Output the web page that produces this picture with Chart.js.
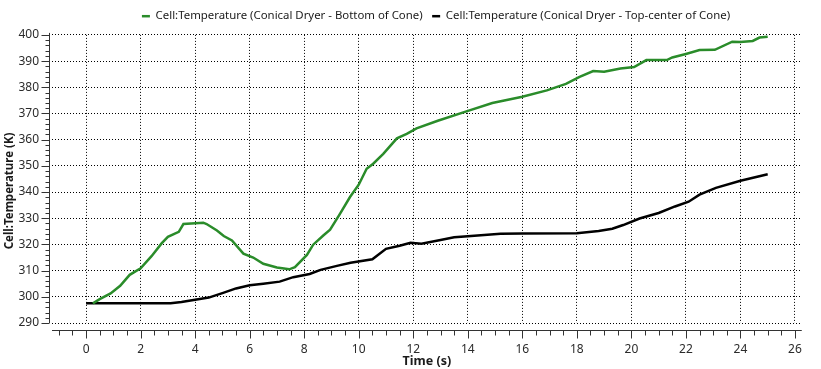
<!DOCTYPE html>
<html>
<head>
<meta charset="utf-8">
<script src="https://cdn.jsdelivr.net/npm/chart.js@4.4.1/dist/chart.umd.min.js"></script>
<style>
  html, body { margin: 0; padding: 0; background: #fff; }
  #wrap { width: 821px; height: 369px; }
</style>
</head>
<body>
<div id="wrap"><canvas id="myChart"></canvas></div>
<script>
  // time (s) / temperature (K)
  const bottomTime = [0.25, 0.5, 0.9, 1.25, 1.6, 2.0, 2.4, 2.77, 3.0, 3.4, 3.57, 4.3, 4.42, 4.8, 5.05, 5.35, 5.77, 6.13, 6.5, 7.0, 7.45, 7.66, 8.1, 8.33, 8.7, 8.95, 9.3, 9.68, 10.0, 10.29, 10.53, 10.9, 11.4, 11.76, 12.12, 12.9, 13.95, 14.9, 16.0, 16.9, 17.6, 18.1, 18.6, 19.0, 19.6, 20.1, 20.55, 21.3, 21.5, 22.0, 22.5, 23.06, 23.7, 24.0, 24.45, 24.7, 25.0];
  const bottomTemp = [297.5, 299.1, 301.3, 304.2, 308.4, 310.9, 315.5, 320.4, 322.9, 324.8, 327.8, 328.3, 327.8, 325.3, 323.2, 321.5, 316.5, 315.0, 312.6, 311.2, 310.5, 311.3, 316.0, 319.9, 323.4, 325.6, 331.5, 338.1, 342.8, 348.9, 350.8, 354.6, 360.5, 362.2, 364.3, 367.2, 370.8, 374.0, 376.4, 378.8, 381.3, 384.0, 386.2, 385.9, 387.2, 387.7, 390.4, 390.4, 391.4, 392.7, 394.2, 394.3, 397.4, 397.3, 397.7, 399.0, 399.3];

  const topTime = [0, 3.1, 3.5, 4.0, 4.5, 5.0, 5.5, 6.0, 6.5, 7.1, 7.6, 8.2, 8.6, 9.2, 9.7, 10.5, 11.0, 11.5, 11.9, 12.3, 13.0, 13.5, 14.0, 15.2, 16.0, 18.0, 18.8, 19.3, 19.7, 20.3, 21.0, 21.6, 22.1, 22.5, 23.1, 24.0, 25.0];
  const topTemp = [297.5, 297.5, 298.0, 298.9, 299.7, 301.4, 303.2, 304.4, 305.0, 305.8, 307.5, 308.7, 310.3, 311.8, 313.0, 314.3, 318.3, 319.5, 320.6, 320.3, 321.7, 322.7, 323.1, 324.1, 324.2, 324.3, 325.1, 326.0, 327.4, 329.9, 332.0, 334.5, 336.3, 339.0, 341.6, 344.3, 346.8];

  const xTicks = [0, 2, 4, 6, 8, 10, 12, 14, 16, 18, 20, 22, 24, 26];
  const yTicks = [290, 300, 310, 320, 330, 340, 350, 360, 370, 380, 390, 400];
  const xMinorStep = 0.5;
  const yMinorStep = 2;
  const yTitle = "Cell:Temperature (K)";

  const uiFont = "'Noto Sans', 'Open Sans', sans-serif";

  // the original legend sits a little right of centre and tight to the top
  const legendNudge = {
    id: "legendNudge",
    afterLayout(chart) {
      const lg = chart.legend;
      lg.left += 35;
      lg.right += 35;
      lg.top -= 3;
      lg.bottom -= 3;
    }
  };

  // axis lines + major/minor tick marks, drawn like the desktop plot (x axis sits a bit below the plot)
  const axisMarks = {
    id: "axisMarks",
    afterDraw(chart) {
      const c = chart.ctx;
      const xs = chart.scales.x;
      const ys = chart.scales.y;
      const area = chart.chartArea;
      c.save();
      c.strokeStyle = "#333";
      c.lineWidth = 1;
      c.beginPath();

      const axisY = Math.round(area.bottom) + 7.5;
      c.moveTo(area.left, axisY);
      c.lineTo(area.right, axisY);
      for (let v = -1; v <= 26; v += xMinorStep) {
        const px = Math.round(xs.getPixelForValue(v)) + 0.5;
        const len = xTicks.includes(v) ? 8 : 5;
        c.moveTo(px, axisY);
        c.lineTo(px, axisY + len);
      }

      const axisX = Math.round(area.left) - 2.5;
      c.moveTo(axisX, area.top - 2);
      c.lineTo(axisX, area.bottom);
      for (let v = yTicks[0]; v <= yTicks[yTicks.length - 1]; v += yMinorStep) {
        const py = Math.round(ys.getPixelForValue(v)) + 0.5;
        const len = yTicks.includes(v) ? 8 : 4;
        c.moveTo(axisX, py);
        c.lineTo(axisX - len, py);
      }
      c.stroke();

      // y title is centred on the whole axis block (plot + x labels), not just the plot
      c.translate(10, (area.top + xs.bottom - 22) / 2);
      c.rotate(-Math.PI / 2);
      c.fillStyle = "#1a1a1a";
      c.font = "bold 11.5px " + uiFont;
      c.textAlign = "center";
      c.textBaseline = "middle";
      c.fillText(yTitle, 0, 0);
      c.restore();
    }
  };

  const ctx = document.getElementById("myChart");

  new Chart(ctx, {
    type: "line",
    data: {
      datasets: [
        {
          label: "Cell:Temperature (Conical Dryer - Bottom of Cone)",
          data: bottomTime.map((t, i) => ({ x: t, y: bottomTemp[i] })),
          borderColor: "#2a8c2a",
          backgroundColor: "#2a8c2a",
          borderWidth: 2.5,
          pointRadius: 0,
          tension: 0,
        },
        {
          label: "Cell:Temperature (Conical Dryer - Top-center of Cone)",
          data: topTime.map((t, i) => ({ x: t, y: topTemp[i] })),
          borderColor: "#000",
          backgroundColor: "#000",
          borderWidth: 2.5,
          pointRadius: 0,
          tension: 0,
        },
      ],
    },
    options: {
      responsive: true,
      maintainAspectRatio: false,
      animation: false,
      layout: {
        padding: { top: 4, right: 19, bottom: 0, left: 0 },
      },
      plugins: {
        legend: {
          display: true,
          position: "top",
          labels: {
            usePointStyle: true,
            pointStyle: "line",
            pointStyleWidth: 8,
            boxHeight: 8,
            padding: 9.5,
            color: "#1a1a1a",
            font: { family: uiFont, size: 11.4 },
          },
        },
        tooltip: { enabled: false },
      },
      scales: {
        x: {
          type: "linear",
          min: -1.25,
          max: 26.25,
          afterBuildTicks: (scale) => {
            scale.ticks = xTicks.map((v) => ({ value: v }));
          },
          afterFit: (scale) => {
            scale.height = 46;
          },
          border: { display: false, dash: [1, 2] },
          grid: { color: "#000", lineWidth: 1, drawTicks: false },
          ticks: {
            padding: 19,
            color: "#2b2b2b",
            maxRotation: 0,
            font: { family: uiFont, size: 12 },
          },
          title: {
            display: true,
            text: "Time (s)",
            color: "#1a1a1a",
            padding: 0,
            font: { family: uiFont, size: 12.5, weight: "bold" },
          },
        },
        y: {
          min: 290,
          max: 400,
          afterBuildTicks: (scale) => {
            scale.ticks = yTicks.map((v) => ({ value: v }));
          },
          afterFit: (scale) => {
            scale.width = 52;
          },
          border: { display: false, dash: [1, 2] },
          grid: { color: "#000", lineWidth: 1, drawTicks: false },
          ticks: {
            padding: 13,
            color: "#2b2b2b",
            font: { family: uiFont, size: 12 },
          },
          title: { display: false },
        },
      },
    },
    plugins: [legendNudge, axisMarks],
  });
</script>
</body>
</html>
